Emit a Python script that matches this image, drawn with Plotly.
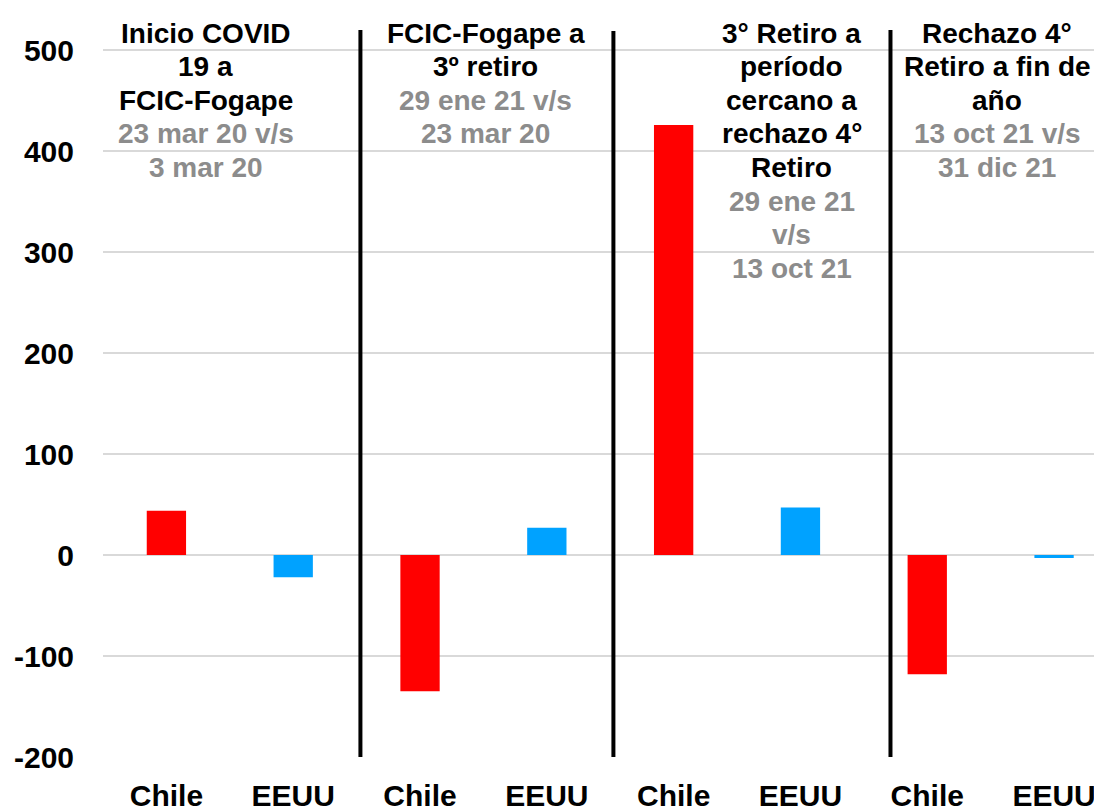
import plotly.graph_objects as go

# Data
tick_labels = ["Chile", "EEUU", "Chile", "EEUU", "Chile", "EEUU", "Chile", "EEUU"]
chile_vals = [44, -135, 426, -118]
eeuu_vals = [-22, 27, 47, -3]

period_titles = [
    ["Inicio COVID", "19 a", "FCIC-Fogape"],
    ["FCIC-Fogape a", "3º retiro"],
    ["3° Retiro a", "período", "cercano a", "rechazo 4°", "Retiro"],
    ["Rechazo 4°", "Retiro a fin de", "año"],
]
period_dates = [
    ["23 mar 20 v/s", "3 mar 20"],
    ["29 ene 21 v/s", "23 mar 20"],
    ["29 ene 21", "v/s", "13 oct 21"],
    ["13 oct 21 v/s", "31 dic 21"],
]

# Layout helpers (positions)
title_x = [0.31, 2.52, 4.93, 6.55]
sep_lines = [(1.53, -200, 536), (3.525, -200, 519), (5.71, -223, 536)]
first_line_y = 517
line_step = 33.3

RED = "#FF0000"
BLUE = "#00A2FF"
GRAY = "#8C8C8C"
FONT = "Liberation Sans, Arial, sans-serif"

x_chile = [i * 2 for i in range(len(chile_vals))]
x_eeuu = [i * 2 + 1 for i in range(len(eeuu_vals))]

fig = go.Figure()
fig.add_trace(go.Bar(x=x_chile, y=chile_vals, width=0.31, marker_color=RED,
                     marker_line_width=0, name="Chile"))
fig.add_trace(go.Bar(x=x_eeuu, y=eeuu_vals, width=0.31, marker_color=BLUE,
                     marker_line_width=0, name="EEUU"))

annotations = []
for bx, titles, dates in zip(title_x, period_titles, period_dates):
    lines = [(t, "black") for t in titles] + [(d, GRAY) for d in dates]
    for i, (txt, col) in enumerate(lines):
        annotations.append(dict(
            x=bx, y=first_line_y - i * line_step, xref="x", yref="y",
            text="<b>" + txt + "</b>", showarrow=False,
            font=dict(family=FONT, size=28, color=col),
            xanchor="center", yanchor="middle"))

shapes = []
for lx, y0, y1 in sep_lines:
    shapes.append(dict(type="line", xref="x", yref="y", x0=lx, x1=lx, y0=y0, y1=y1,
                       line=dict(color="black", width=4)))

fig.update_layout(
    width=1094, height=801,
    margin=dict(l=95, r=0, t=22, b=52),
    paper_bgcolor="white", plot_bgcolor="white",
    showlegend=False,
    barmode="overlay",
    annotations=annotations,
    shapes=shapes,
    font=dict(family=FONT, size=30, color="black"),
)
fig.update_xaxes(
    range=[-0.5, 7.378], tickmode="array", tickvals=list(range(8)),
    ticktext=["<b>" + t + "</b>" for t in tick_labels],
    showgrid=False, zeroline=False, showline=False, ticks="",
    tickfont=dict(family=FONT, size=30, color="black"),
    ticklabelstandoff=18, automargin=False,
)
fig.update_yaxes(
    range=[-200, 520], tickvals=[-200, -100, 0, 100, 200, 300, 400, 500],
    ticktext=["<b>%d</b>" % v for v in [-200, -100, 0, 100, 200, 300, 400, 500]],
    showgrid=True, gridcolor="#D9D9D9", gridwidth=2,
    zeroline=False, showline=False, ticks="",
    tickfont=dict(family=FONT, size=30, color="black"),
    ticklabelstandoff=28, automargin=False,
)

fig.write_html("out.html")
